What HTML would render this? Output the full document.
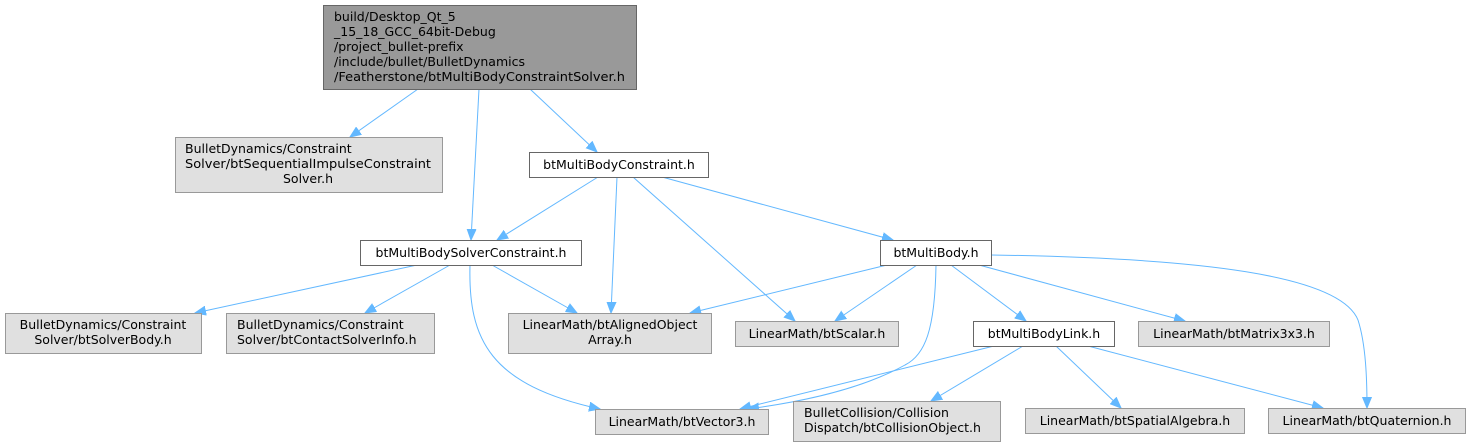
<!DOCTYPE html>
<html><head><meta charset="utf-8"><style>
html,body{margin:0;padding:0;background:#fff;}
svg{display:block;}
text{font-family:"DejaVu Sans","Liberation Sans",sans-serif;font-size:12.5px;fill:#000;}
.g{fill:#e0e0e0;stroke:#999;stroke-width:1;}
.w{fill:#fff;stroke:#666;stroke-width:1;}
.e{fill:none;stroke:#63b8ff;stroke-width:1;}
</style></head><body>
<svg width="1469" height="447" viewBox="0 0 1469 447" xmlns="http://www.w3.org/2000/svg">
<defs><marker id="a" markerUnits="userSpaceOnUse" markerWidth="12" markerHeight="10" refX="11" refY="5" orient="auto"><path d="M0,0.5 L11,5 L0,9.5 z" fill="#63b8ff" stroke="#63b8ff"/></marker></defs>
<g marker-end="url(#a)">
<path class="e" d="M418,89 L350,137"/>
<path class="e" d="M479,89 L471,240"/>
<path class="e" d="M530,89 L597,152"/>
<path class="e" d="M598,177 L497,240"/>
<path class="e" d="M617,177 L611,313"/>
<path class="e" d="M633,177 L795,321"/>
<path class="e" d="M662,177 L893,240"/>
<path class="e" d="M417,265 L195,313"/>
<path class="e" d="M450,265 L365,313"/>
<path class="e" d="M492,265 L577,313"/>
<path class="e" d="M470,265 C468,340 490,385 600,409"/>
<path class="e" d="M887,265 L690,313"/>
<path class="e" d="M917,265 L835,321"/>
<path class="e" d="M936,265 C935,330 925,355 905,365 C860,390 800,402 748,409"/>
<path class="e" d="M951,265 L1026,321"/>
<path class="e" d="M979,265 L1185,321"/>
<path class="e" d="M991,255 C1200,258 1340,275 1358,320 C1366,345 1367,380 1367,408"/>
<path class="e" d="M994,346 L740,409"/>
<path class="e" d="M1023,346 L931,401"/>
<path class="e" d="M1056,346 L1121,408"/>
<path class="e" d="M1088,346 L1323,408"/>
</g>
<rect x="323.5" y="5.5" width="313" height="84" fill="#999" stroke="#666"/>
<text x="334" y="21">build/Desktop_Qt_5</text>
<text x="334" y="36">_15_18_GCC_64bit-Debug</text>
<text x="334" y="51">/project_bullet-prefix</text>
<text x="334" y="66">/include/bullet/BulletDynamics</text>
<text x="334" y="81" textLength="291" lengthAdjust="spacingAndGlyphs">/Featherstone/btMultiBodyConstraintSolver.h</text>

<rect class="g" x="175.5" y="137.5" width="267" height="55"/>
<text x="185" y="153">BulletDynamics/Constraint</text>
<text x="185" y="168" textLength="246" lengthAdjust="spacingAndGlyphs">Solver/btSequentialImpulseConstraint</text>
<text x="308" y="183" text-anchor="middle">Solver.h</text>

<rect class="w" x="529.5" y="152.5" width="179" height="25"/>
<text x="619" y="169" text-anchor="middle">btMultiBodyConstraint.h</text>

<rect class="w" x="360.5" y="240.5" width="221" height="25"/>
<text x="471" y="257" text-anchor="middle">btMultiBodySolverConstraint.h</text>

<rect class="w" x="880.5" y="240.5" width="111" height="25"/>
<text x="936" y="257" text-anchor="middle">btMultiBody.h</text>

<rect class="g" x="5.5" y="313.5" width="196" height="40"/>
<text x="103" y="329" text-anchor="middle">BulletDynamics/Constraint</text>
<text x="103" y="344" text-anchor="middle">Solver/btSolverBody.h</text>

<rect class="g" x="226.5" y="313.5" width="208" height="40"/>
<text x="237" y="329">BulletDynamics/Constraint</text>
<text x="237" y="344">Solver/btContactSolverInfo.h</text>

<rect class="g" x="508.5" y="313.5" width="203" height="40"/>
<text x="610" y="329" text-anchor="middle">LinearMath/btAlignedObject</text>
<text x="610" y="344" text-anchor="middle">Array.h</text>

<rect class="g" x="735.5" y="321.5" width="163" height="25"/>
<text x="817" y="338" text-anchor="middle">LinearMath/btScalar.h</text>

<rect class="w" x="973.5" y="321.5" width="141" height="25"/>
<text x="1044" y="338" text-anchor="middle">btMultiBodyLink.h</text>

<rect class="g" x="1138.5" y="321.5" width="191" height="25"/>
<text x="1234" y="338" text-anchor="middle">LinearMath/btMatrix3x3.h</text>

<rect class="g" x="595.5" y="409.5" width="173" height="25"/>
<text x="682" y="426" text-anchor="middle">LinearMath/btVector3.h</text>

<rect class="g" x="793.5" y="401.5" width="207" height="40"/>
<text x="804" y="417">BulletCollision/Collision</text>
<text x="804" y="432">Dispatch/btCollisionObject.h</text>

<rect class="g" x="1025.5" y="408.5" width="219" height="25"/>
<text x="1135" y="425" text-anchor="middle">LinearMath/btSpatialAlgebra.h</text>

<rect class="g" x="1268.5" y="408.5" width="197" height="25"/>
<text x="1367" y="425" text-anchor="middle">LinearMath/btQuaternion.h</text>
</svg>
</body></html>
